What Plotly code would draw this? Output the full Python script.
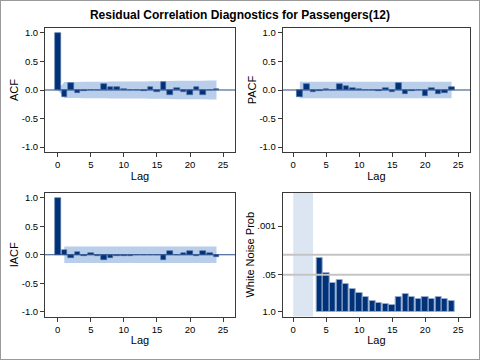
import plotly.graph_objects as go

# ---------------- data ----------------
acf_lags = list(range(0, 25))
acf_vals = [1.0, -0.12, 0.115, -0.06, -0.01, 0.005, 0.0, 0.10, 0.05, 0.045, 0.015, 0.005, 0.0,
            -0.025, 0.055, -0.035, 0.145, -0.09, 0.03, -0.035, -0.08, 0.055, -0.08, 0.005, 0.025]
acf_band = [0.0, 0.138, 0.14, 0.142, 0.143, 0.143, 0.143, 0.144, 0.147, 0.148, 0.149, 0.149, 0.149,
            0.15, 0.151, 0.152, 0.153, 0.158, 0.16, 0.161, 0.161, 0.163, 0.164, 0.165, 0.165]

pacf_lags = list(range(1, 25))
pacf_vals = [-0.12, 0.105, -0.035, -0.01, 0.01, 0.0, 0.105, 0.075, 0.04, 0.02, 0.005, 0.0,
             -0.02, 0.04, -0.04, 0.115, -0.07, -0.015, 0.0, -0.1, 0.035, -0.07, -0.045, 0.045]
pacf_band = 0.145

iacf_lags = list(range(0, 25))
iacf_vals = [1.0, 0.075, -0.06, 0.055, -0.02, 0.025, -0.02, -0.1, -0.055, -0.025, -0.03, -0.02, 0.0,
             -0.012, -0.01, -0.01, -0.1, 0.07, 0.0, 0.035, 0.07, -0.025, 0.06, 0.025, -0.04]
iacf_band = 0.145

wn_lags = list(range(4, 25))
wn_prob = [0.013, 0.045, 0.10, 0.08, 0.11, 0.155, 0.225, 0.31, 0.41, 0.50, 0.525, 0.60,
           0.295, 0.24, 0.295, 0.345, 0.315, 0.345, 0.315, 0.37, 0.43]
wn_ticks = [1.0, 0.05, 0.001]
wn_ticktext = ["1.0", ".05", ".001"]
wn_reflines = [0.05, 0.01]

title = "Residual Correlation Diagnostics for Passengers(12)"

# ---------------- style ----------------
BAR = "rgb(0,50,122)"
BAR_EDGE = "rgb(80,110,160)"
BAND = "rgb(184,206,234)"
ZERO = "rgb(40,75,135)"
FRAME = "#3a3a3a"
FONT = "Liberation Sans, Arial, sans-serif"
W, H = 480, 360

def px_x(a, b):
    return [a / W, b / W]

def px_y(top, bottom):
    return [1 - bottom / H, 1 - top / H]

fig = go.Figure()

bar_style = dict(color=BAR, line=dict(color=BAR_EDGE, width=0.6))
fig.add_trace(go.Bar(x=acf_lags, y=acf_vals, width=0.85, marker=bar_style, xaxis="x", yaxis="y"))
fig.add_trace(go.Bar(x=pacf_lags, y=pacf_vals, width=0.85, marker=bar_style, xaxis="x2", yaxis="y2"))
fig.add_trace(go.Bar(x=iacf_lags, y=iacf_vals, width=0.85, marker=bar_style, xaxis="x3", yaxis="y3"))

for p in wn_reflines:
    fig.add_trace(go.Scatter(x=[-1.6, 26.8], y=[p, p], mode="lines", line=dict(color="#c4c4c4", width=2),
                             hoverinfo="skip", xaxis="x4", yaxis="y4", cliponaxis=True))
fig.add_trace(go.Bar(x=wn_lags, y=[p - 1 for p in wn_prob], base=1, width=0.95,
                     marker=dict(color=BAR, line=dict(color="rgb(150,170,205)", width=1)),
                     xaxis="x4", yaxis="y4"))

# ACF confidence band path (data coords)
upper = [f"{l},{b}" for l, b in zip(acf_lags, acf_band)]
lower = [f"{l},{-b}" for l, b in zip(acf_lags[::-1], acf_band[::-1])]
acf_path = "M " + " L ".join(upper + lower) + " Z"

shapes = [
    dict(type="path", xref="x", yref="y", path=acf_path, fillcolor=BAND, line=dict(width=0), layer="below"),
    dict(type="rect", xref="x2", yref="y2", x0=pacf_lags[0], x1=pacf_lags[-1], y0=-pacf_band, y1=pacf_band,
         fillcolor=BAND, line=dict(width=0), layer="below"),
    dict(type="rect", xref="x3", yref="y3", x0=1, x1=24, y0=-iacf_band, y1=iacf_band,
         fillcolor=BAND, line=dict(width=0), layer="below"),
    dict(type="rect", xref="x4", yref="y4 domain", x0=0, x1=3, y0=0, y1=1, fillcolor="rgb(220,230,242)",
         line=dict(width=0), layer="below"),
    dict(type="line", xref="x domain", yref="y", x0=0, x1=1, y0=0, y1=0, line=dict(color=ZERO, width=1.2)),
    dict(type="line", xref="x2 domain", yref="y2", x0=0, x1=1, y0=0, y1=0, line=dict(color=ZERO, width=1.2)),
    dict(type="line", xref="x3 domain", yref="y3", x0=0, x1=1, y0=0, y1=0, line=dict(color=ZERO, width=1.2)),
    dict(type="line", xref="x4 domain", yref="y4", x0=0, x1=1, y0=0, y1=0, line=dict(color=ZERO, width=1.2)),
    dict(type="rect", xref="paper", yref="paper", x0=0, x1=1, y0=0, y1=1, line=dict(color="#9a9a9a", width=2)),
]

axis_common = dict(showline=True, mirror=True, linecolor=FRAME, linewidth=1, ticks="outside", ticklen=4,
                   tickcolor=FRAME, showgrid=False, zeroline=False, tickfont=dict(size=9.5, color="#000"),
                   automargin=False)

def xaxis(dom, rng, anchor):
    return dict(domain=dom, range=rng, anchor=anchor, tickvals=[0, 5, 10, 15, 20, 25],
                title=dict(text="Lag", font=dict(size=11, color="#000"), standoff=2), **axis_common)

def yaxis_corr(dom, anchor, label):
    return dict(domain=dom, range=[-1.085, 1.085], anchor=anchor, tickvals=[-1, -0.5, 0, 0.5, 1],
                ticktext=["-1.0", "-0.5", "0.0", "0.5", "1.0"],
                title=dict(text=label, font=dict(size=11, color="#000"), standoff=0), **axis_common)

left = px_x(45, 235)
right = px_x(282.7, 470)
top = px_y(28, 152)
bot = px_y(193, 316.5)

fig.update_layout(
    width=W, height=H, margin=dict(l=0, r=0, t=0, b=0),
    paper_bgcolor="white", plot_bgcolor="white", showlegend=False, bargap=0,
    font=dict(family=FONT, color="#000"),
    title=dict(text="<b>" + title + "</b>", x=0.5, xanchor="center", y=1 - 15 / H, yanchor="middle",
               font=dict(size=12, color="#000")),
    xaxis=xaxis(left, [-1.92, 26.8], "y"),
    yaxis=yaxis_corr(top, "x", "ACF"),
    xaxis2=xaxis(right, [-1.6, 26.8], "y2"),
    yaxis2=yaxis_corr(top, "x2", "PACF"),
    xaxis3=xaxis(left, [-1.92, 26.8], "y3"),
    yaxis3=yaxis_corr(bot, "x3", "IACF"),
    xaxis4=xaxis(right, [-1.6, 26.8], "y4"),
    yaxis4=dict(domain=bot, type="log", range=[0.164, -4.157], anchor="x4", tickvals=wn_ticks,
                ticktext=wn_ticktext,
                title=dict(text="White Noise Prob", font=dict(size=11, color="#000"), standoff=0), **axis_common),
    shapes=shapes,
)

fig.write_html("out.html", config={"displayModeBar": False},
               post_script="document.body.style.margin='0';")
